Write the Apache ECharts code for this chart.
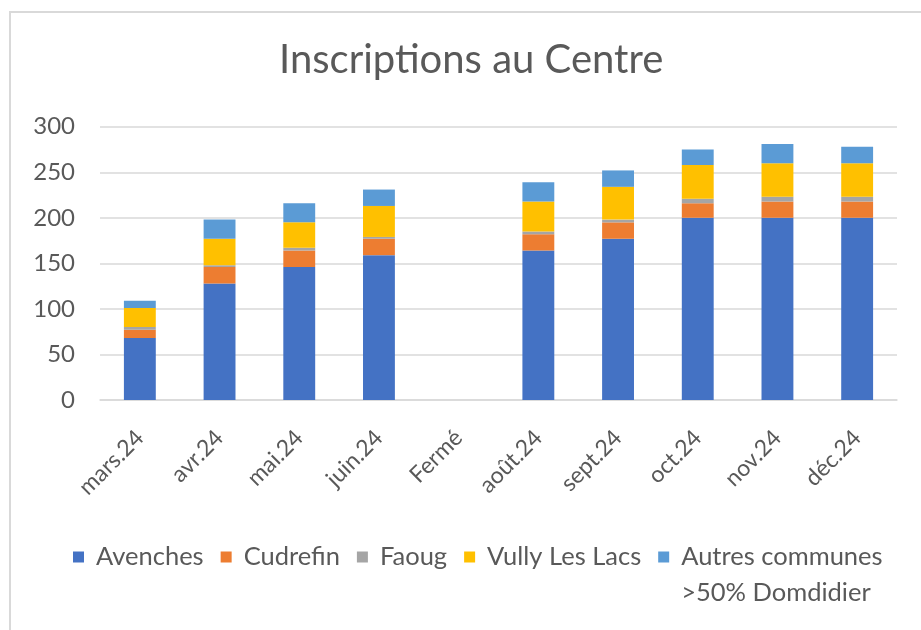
<!DOCTYPE html>
<html><head><meta charset="utf-8">
<script src="https://cdn.jsdelivr.net/npm/echarts@6/dist/echarts.min.js"></script>
<style>
html,body{margin:0;padding:0;background:#fff;overflow:hidden;}
#c{position:absolute;left:0;top:0;width:921px;height:630px;}
#frame{position:absolute;left:9px;top:11px;width:2000px;height:2000px;border:2px solid #d9d9d9;pointer-events:none;}
</style></head>
<body>
<div id="c"></div>
<div id="frame"></div>
<script>
var categories = ['mars.24','avr.24','mai.24','juin.24','Fermé','août.24','sept.24','oct.24','nov.24','déc.24'];
var seriesNames = ['Avenches','Cudrefin','Faoug','Vully Les Lacs','Autres communes\n>50% Domdidier'];
var avenches = [68,128,146,159,null,164,177,200,200,200];
var cudrefin = [9,18,18,18,null,18,18,16,18,18];
var faoug = [3,2,3,2,null,3,3,5,5,5];
var vully = [21,29,28,34,null,33,36,37,37,37];
var autres = [8,21,21,18,null,21,18,17,21,18];
var yTicks = {min:0, max:300, interval:50};
var colors = ['#4472C4','#ED7D31','#A5A5A5','#FFC000','#5B9BD5'];

var values = [avenches,cudrefin,faoug,vully,autres];
var FONT = 'Lato';
var chart = echarts.init(document.getElementById('c'));
chart.setOption({
  animation:false,
  color:colors,
  title:{text:'Inscriptions au Centre',left:279,top:40,padding:0,
    textStyle:{fontFamily:FONT,fontSize:40,fontWeight:'normal',color:'#595959'}},
  grid:{left:100,right:24,top:126.7,bottom:230,containLabel:false},
  legend:{left:73,top:503,padding:0,itemWidth:11,itemHeight:11,itemGap:17,
    icon:'rect',
    formatter:function(n){ return n.indexOf('\n')>=0 ? '\u00a0\n'+n : n; },
    textStyle:{fontFamily:FONT,fontSize:25.5,color:'#595959',lineHeight:36,padding:[0,0,0,7]},
    data:seriesNames},
  xAxis:{type:'category',data:categories,
    axisLine:{lineStyle:{color:'#d9d9d9',width:1.5}},
    axisTick:{show:false},
    axisLabel:{rotate:45,interval:0,fontFamily:FONT,fontSize:23,color:'#595959',margin:34}},
  yAxis:{type:'value',min:yTicks.min,max:yTicks.max,interval:yTicks.interval,
    axisLine:{show:false},axisTick:{show:false},
    splitLine:{lineStyle:{color:'#d9d9d9',width:1.5}},
    axisLabel:{fontFamily:FONT,fontSize:24,color:'#595959',margin:25}},
  series:seriesNames.map(function(n,i){
    return {name:n,type:'bar',stack:'total',barWidth:'40%',data:values[i],
      itemStyle:{color:colors[i]}};
  })
});
</script>
</body></html>
